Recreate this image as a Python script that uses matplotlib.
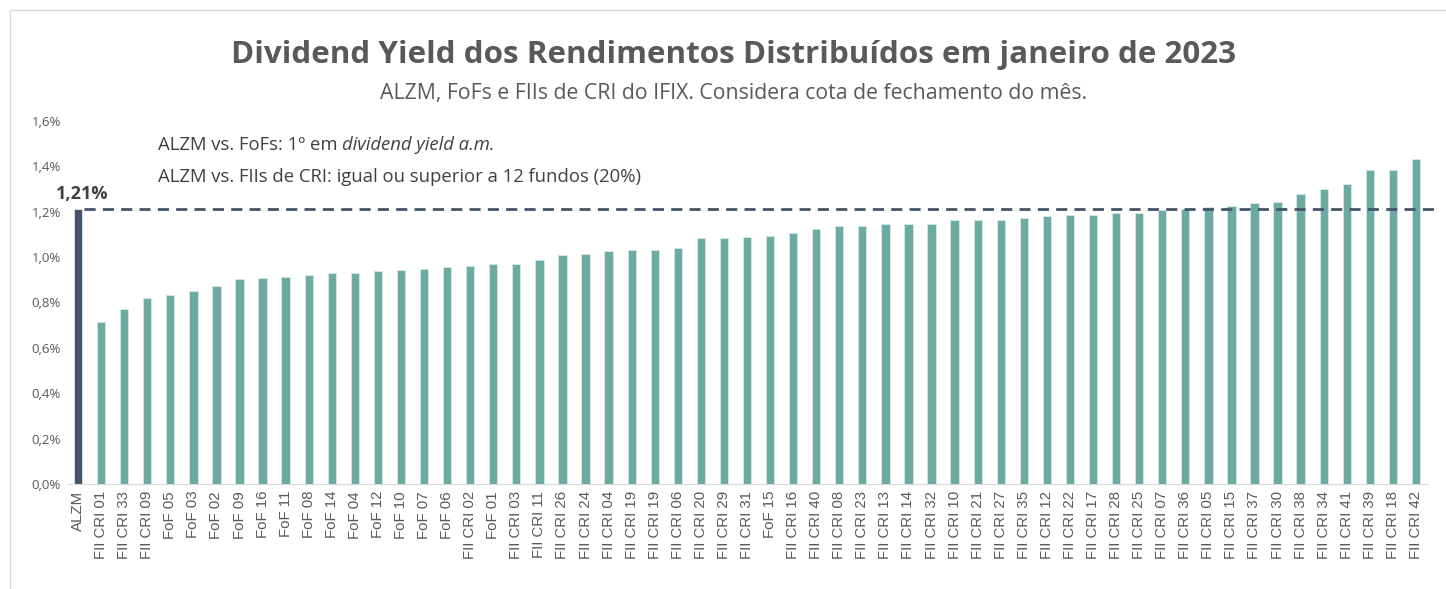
import numpy as np
import matplotlib.pyplot as plt
from matplotlib.patches import Rectangle

plt.rcParams['font.family'] = ['Open Sans', 'DejaVu Sans']

# Fund names and dividend yield (% a.m.), ordered as in the chart
funds = ['ALZM', 'FII CRI 01', 'FII CRI 33', 'FII CRI 09', 'FoF 05', 'FoF 03', 'FoF 02',
         'FoF 09', 'FoF 16', 'FoF 11', 'FoF 08', 'FoF 14', 'FoF 04', 'FoF 12', 'FoF 10',
         'FoF 07', 'FoF 06', 'FII CRI 02', 'FoF 01', 'FII CRI 03', 'FII CRI 11', 'FII CRI 26',
         'FII CRI 24', 'FII CRI 04', 'FII CRI 19', 'FII CRI 19', 'FII CRI 06', 'FII CRI 20',
         'FII CRI 29', 'FII CRI 31', 'FoF 15', 'FII CRI 16', 'FII CRI 40', 'FII CRI 08',
         'FII CRI 23', 'FII CRI 13', 'FII CRI 14', 'FII CRI 32', 'FII CRI 10', 'FII CRI 21',
         'FII CRI 27', 'FII CRI 35', 'FII CRI 12', 'FII CRI 22', 'FII CRI 17', 'FII CRI 28',
         'FII CRI 25', 'FII CRI 07', 'FII CRI 36', 'FII CRI 05', 'FII CRI 15', 'FII CRI 37',
         'FII CRI 30', 'FII CRI 38', 'FII CRI 34', 'FII CRI 41', 'FII CRI 39', 'FII CRI 18',
         'FII CRI 42']
dy = [1.21, 0.716, 0.770, 0.818, 0.831, 0.850, 0.873,
      0.903, 0.908, 0.912, 0.921, 0.928, 0.930, 0.939, 0.943,
      0.948, 0.958, 0.961, 0.968, 0.969, 0.987, 1.008,
      1.012, 1.028, 1.033, 1.033, 1.039, 1.084,
      1.086, 1.087, 1.093, 1.106, 1.122, 1.136,
      1.136, 1.145, 1.146, 1.147, 1.162, 1.162,
      1.163, 1.172, 1.180, 1.184, 1.186, 1.193,
      1.196, 1.209, 1.212, 1.221, 1.225, 1.238,
      1.242, 1.277, 1.299, 1.324, 1.383, 1.384,
      1.432]
alzm_dy = 1.21
yticks = [0.0, 0.2, 0.4, 0.6, 0.8, 1.0, 1.2, 1.4, 1.6]

teal = '#6BABA3'
dark = '#44546A'
grey = '#595959'

fig = plt.figure(figsize=(14.46, 5.89), dpi=100)
ax = fig.add_axes([66.5 / 1446, 1 - 484 / 589, 1361 / 1446, 363 / 589])

x = np.arange(len(funds))
colors = [dark if f == 'ALZM' else teal for f in funds]
ax.bar(x, dy, width=0.36, color=colors, edgecolor='#D6E9E6', linewidth=0.6)

# reference line at ALZM's yield
ax.plot([0.25, 59.0], [alzm_dy, alzm_dy], color=dark, lw=2, ls=(0, (4, 2.6)),
        clip_on=False, zorder=3)
ax.text(-0.95, alzm_dy + 0.03, '1,21%', fontsize=13, fontweight='bold',
        color='#404040', ha='left', va='bottom')

ax.set_xlim(-0.5, len(funds) - 0.5)
ax.set_ylim(0, 1.6)
ax.set_xticks(x)
ax.set_xticklabels(funds, rotation=90, fontsize=10.8, color=grey,
                   family=['Liberation Sans', 'DejaVu Sans'])
ax.set_yticks(yticks)
ax.set_yticklabels([f'{v:.1f}%'.replace('.', ',') for v in yticks], fontsize=9.5, color=grey)
ax.tick_params(length=0, pad=4)
ax.tick_params(axis='x', pad=5)
for s in ['top', 'right', 'left']:
    ax.spines[s].set_visible(False)
ax.spines['bottom'].set_color('#D9D9D9')

ax.text(3.45, 1.495, 'ALZM vs. FoFs: 1º em ', fontsize=13.3, color='#404040', va='center')
ax.annotate('dividend yield a.m.', xy=(1, 0.5), xycoords=ax.texts[-1],
            fontsize=13.3, color='#404040', style='italic', va='center')
ax.text(3.45, 1.355, 'ALZM vs. FIIs de CRI: igual ou superior a 12 fundos (20%)',
        fontsize=13.3, color='#404040', va='center')

fig.text(0.507, 1 - 55 / 589, 'Dividend Yield dos Rendimentos Distribuídos em janeiro de 2023',
         fontsize=22.6, fontweight='bold', color=grey, ha='center', va='center')
fig.text(0.507, 1 - 93 / 589, 'ALZM, FoFs e FIIs de CRI do IFIX. Considera cota de fechamento do mês.',
         fontsize=15.3, color=grey, ha='center', va='center')

# chart area border
fig.patches.append(Rectangle((10 / 1446, -0.05), 1.1, 1 - 10 / 589 + 0.05,
                             transform=fig.transFigure, fill=False,
                             edgecolor='#D9D9D9', lw=1))

fig.savefig('out.png', dpi=100)
